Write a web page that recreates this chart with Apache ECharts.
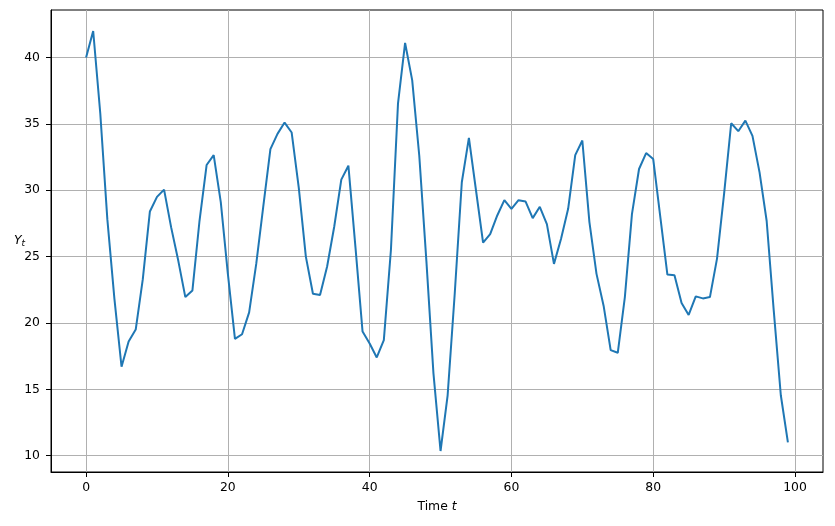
<!DOCTYPE html>
<html><head><meta charset="utf-8">
<script src="https://cdn.jsdelivr.net/npm/echarts@6/dist/echarts.min.js"></script>
<style>html,body{margin:0;padding:0;background:#fff}#c{width:835px;height:526px}</style>
</head><body><div id="c"></div>
<script>
const timeSteps = [0,1,2,3,4,5,6,7,8,9,10,11,12,13,14,15,16,17,18,19,20,21,22,23,24,25,26,27,28,29,30,31,32,33,34,35,36,37,38,39,40,41,42,43,44,45,46,47,48,49,50,51,52,53,54,55,56,57,58,59,60,61,62,63,64,65,66,67,68,69,70,71,72,73,74,75,76,77,78,79,80,81,82,83,84,85,86,87,88,89,90,91,92,93,94,95,96,97,98,99];
const yValues = [40.0, 42.0, 35.8, 27.8, 21.8, 16.7, 18.6, 19.5, 23.3, 28.4,
  29.5, 30.05, 27.2, 24.7, 21.95, 22.45, 27.7, 31.9, 32.65, 29.1,
  23.7, 18.8, 19.15, 20.8, 24.45, 28.8, 33.1, 34.25, 35.1, 34.35,
  30.2, 25.0, 22.2, 22.1, 24.25, 27.25, 30.8, 31.85, 25.7, 19.35,
  18.45, 17.4, 18.7, 25.5, 36.55, 41.1, 38.3, 32.6, 24.7, 16.2,
  10.35, 14.55, 22.2, 30.6, 33.95, 30.0, 26.05, 26.7, 28.1, 29.25,
  28.6, 29.25, 29.15, 27.9, 28.75, 27.45, 24.45, 26.35, 28.6, 32.65,
  33.75, 27.6, 23.7, 21.3, 17.95, 17.75, 21.95, 28.2, 31.6, 32.8,
  32.35, 28.0, 23.65, 23.6, 21.5, 20.6, 22.0, 21.85, 21.95, 24.85,
  29.75, 35.05, 34.45, 35.25, 34.1, 31.35, 27.7, 20.95, 14.55, 11.0];
const xTicks = [0, 20, 40, 60, 80, 100];
const yTicks = [10, 15, 20, 25, 30, 35, 40];

const xLo = Math.min(...timeSteps), xHi = Math.max(...timeSteps);
const yLo = Math.min(...yValues), yHi = Math.max(...yValues);
const xPad = (xHi - xLo) * 0.05, yPad = (yHi - yLo) * 0.05;

const FONT = 'DejaVu Sans';
const FS = 12.4;
const chart = echarts.init(document.getElementById('c'), null, {renderer: 'canvas'});
chart.setOption({
  animation: false,
  backgroundColor: '#ffffff',
  grid: {left: 51, right: 12, top: 10, bottom: 54, show: true, borderColor: '#000', borderWidth: 1, backgroundColor: 'transparent'},
  xAxis: {
    type: 'value', min: xLo - xPad, max: xHi + xPad,
    name: '{n|Time }{i|t}', nameLocation: 'middle', nameGap: 29, nameMoveOverlap: false,
    nameTextStyle: {rich: {n: {fontFamily: FONT, fontSize: FS, color: '#000'}, i: {fontFamily: FONT, fontSize: FS, fontStyle: 'italic', color: '#000'}}},
    axisLine: {show: true, onZero: false, lineStyle: {color: '#000', width: 1}},
    axisTick: {show: true, length: 5, inside: false, customValues: xTicks, lineStyle: {color: '#000', width: 1}},
    axisLabel: {customValues: xTicks, margin: 10, fontFamily: FONT, fontSize: FS, color: '#000'},
    splitLine: {show: true, lineStyle: {color: '#b0b0b0', width: 1}}
  },
  yAxis: {
    type: 'value', min: yLo - yPad, max: yHi + yPad,
    name: '{y|Y}{s|t}', nameLocation: 'middle', nameGap: 26, nameRotate: 0, nameMoveOverlap: false,
    nameTextStyle: {rich: {y: {fontFamily: FONT, fontSize: FS, fontStyle: 'italic', color: '#000'}, s: {fontFamily: FONT, fontSize: 9, fontStyle: 'italic', color: '#000', padding: [6, 0, 0, 0]}}},
    axisLine: {show: true, onZero: false, lineStyle: {color: '#000', width: 1}},
    axisTick: {show: true, length: 5, inside: false, customValues: yTicks, lineStyle: {color: '#000', width: 1}},
    axisLabel: {customValues: yTicks, margin: 11, fontFamily: FONT, fontSize: FS, color: '#000'},
    splitLine: {show: true, lineStyle: {color: '#b0b0b0', width: 1}}
  },
  series: [{
    type: 'line',
    data: timeSteps.map((t, i) => [t, yValues[i]]),
    showSymbol: false,
    lineStyle: {color: '#1f77b4', width: 2},
    itemStyle: {color: '#1f77b4'}
  }]
});
</script>
</body></html>
